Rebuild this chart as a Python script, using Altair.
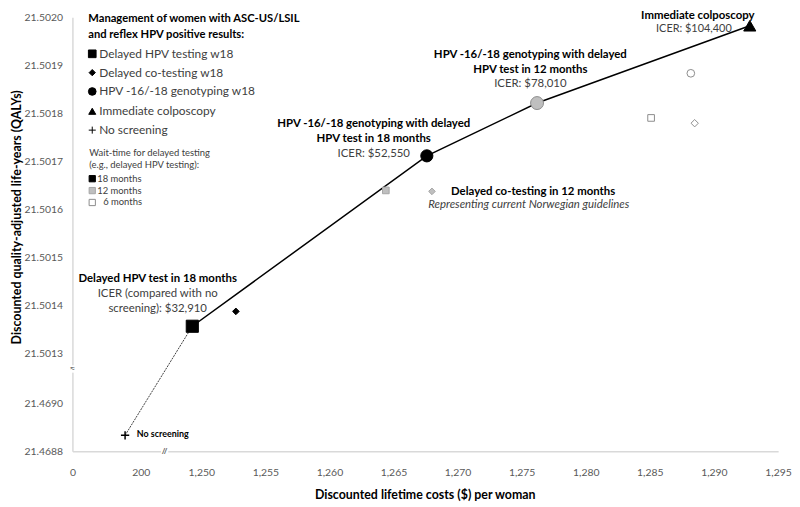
import altair as alt
import pandas as pd

FONT = "Lato, 'DejaVu Sans', sans-serif"

# ---------------- data ----------------
strategies = [
    "No screening",
    "Delayed HPV testing 18m",
    "Delayed co-testing 18m",
    "Delayed HPV testing 12m",
    "HPV-16/18 genotyping 18m",
    "Delayed co-testing 12m",
    "HPV-16/18 genotyping 12m",
    "Immediate colposcopy",
    "HPV-16/18 genotyping 6m",
    "Delayed HPV testing 6m",
    "Delayed co-testing 6m",
]
costs = [154, 1249.3, 1252.7, 1264.4, 1267.6, 1268.0, 1276.2, 1292.8, 1288.2, 1285.1, 1288.5]
qalys = [21.468867, 21.501356, 21.501387, 21.501639, 21.501711, 21.501637,
         21.501821, 21.501982, 21.501883, 21.501790, 21.501779]

frontier = ["Delayed HPV testing 18m", "HPV-16/18 genotyping 18m",
            "HPV-16/18 genotyping 12m", "Immediate colposcopy"]
dotted = ["No screening", "Delayed HPV testing 18m"]

x_ticks = [0, 200, 1250, 1255, 1260, 1265, 1270, 1275, 1280, 1285, 1290, 1295]
y_ticks = [21.4688, 21.4690, 21.5013, 21.5014, 21.5015, 21.5016, 21.5017,
           21.5018, 21.5019, 21.5020]

# styles (kept apart from values)
shape_range = ["M-1,0H1M0,-1V1", "square", "diamond", "square", "circle", "diamond",
               "circle", "triangle-up", "circle", "square", "diamond"]
fill_range = ["black", "black", "black", "#bfbfbf", "black", "#bfbfbf",
              "#bfbfbf", "black", "white", "white", "white"]
stroke_range = ["black", "black", "black", "#a6a6a6", "black", "#a6a6a6",
                "#8c8c8c", "black", "#8c8c8c", "#8c8c8c", "#8c8c8c"]
size_range = [70, 150, 45, 45, 150, 45, 170, 150, 60, 45, 55]
sw_range = [1.5, 1, 1, 1, 1, 1, 1, 1, 1, 1, 1]

# ---------------- broken-axis mapping ----------------
PXU = 12.93
X_EXPR = f"datum.cost <= 600 ? datum.cost / 200 * 69 : 130 + (datum.cost - 1250) * {PXU}"
Y_EXPR = "datum.qaly < 21.49 ? (datum.qaly - 21.4688) / 0.0002 * 48 : 99 + (datum.qaly - 21.5013) * 484286"


def xmap(v):
    return round(v / 200 * 69 if v <= 600 else 130 + (v - 1250) * PXU, 1)


def ymap(v):
    return round((v - 21.4688) / 0.0002 * 48 if v < 21.49 else 99 + (v - 21.5013) * 484286, 1)


XLAB = ("datum.value < 100 ? format(datum.value / 69 * 200, ',.0f') : "
        f"format(1250 + (datum.value - 130) / {PXU}, ',.0f')")
YLAB = ("datum.value < 70 ? format(21.4688 + datum.value / 48 * 0.0002, '.4f') : "
        "format(21.5013 + (datum.value - 99) / 484286, '.4f')")

W, H = 712, 438
OX, OY = 73, 15  # screen position of plot origin

df = pd.DataFrame({"strategy": strategies, "cost": costs, "qaly": qalys,
                   "shape": shape_range, "fill": fill_range, "stroke": stroke_range,
                   "size": size_range, "sw": sw_range})

xenc = alt.X("xpos:Q", scale=alt.Scale(domain=[0, W], nice=False, zero=False),
             axis=alt.Axis(values=[xmap(v) for v in x_ticks], labelExpr=XLAB, title=None,
                           ticks=False, grid=False, domainColor="#d9d9d9", domainWidth=1.5,
                           labelFont=FONT, labelFontSize=10.5, labelColor="#595959",
                           labelPadding=16, labelFlush=False, labelOverlap=False))
yenc = alt.Y("ypos:Q", scale=alt.Scale(domain=[0, H], nice=False, zero=False),
             axis=alt.Axis(values=[ymap(v) for v in y_ticks], labelExpr=YLAB, title=None,
                           ticks=False, grid=False, domainColor="#d9d9d9", domainWidth=1.5,
                           labelFont=FONT, labelFontSize=10.5, labelColor="#595959",
                           labelPadding=10, labelFlush=False, labelOverlap=False))


def with_pos(ch):
    return ch.transform_calculate(xpos=X_EXPR, ypos=Y_EXPR)


fr = df[df.strategy.isin(frontier)].copy()
fr["o"] = [frontier.index(s) for s in fr.strategy]
dt = df[df.strategy.isin(dotted)].copy()
dt["o"] = [dotted.index(s) for s in dt.strategy]

line_front = with_pos(alt.Chart(fr)).mark_line(color="black", strokeWidth=1.5).encode(
    x=xenc, y=yenc, order="o:Q")
line_dot = with_pos(alt.Chart(dt)).mark_line(
    color="#404040", strokeWidth=1, strokeDash=[2, 1]).encode(x=xenc, y=yenc, order="o:Q")

pts = with_pos(alt.Chart(df)).mark_point(filled=True, opacity=1).encode(
    x=xenc, y=yenc,
    shape=alt.Shape("shape:N", scale=None),
    fill=alt.Fill("fill:N", scale=None),
    stroke=alt.Stroke("stroke:N", scale=None),
    size=alt.Size("size:Q", scale=None),
    strokeWidth=alt.StrokeWidth("sw:Q", scale=None),
)


def label(text, x, y, size=11.5, weight="normal", color="black", align="center",
          style="normal", angle=0):
    return alt.Chart(pd.DataFrame({"t": [text]})).mark_text(
        align=align, baseline="middle", fontSize=size, fontWeight=weight, color=color,
        font=FONT, fontStyle=style, angle=angle
    ).encode(x=alt.value(x - OX), y=alt.value(y - OY), text="t:N")


def marker(x, y, shape, fill, stroke, size):
    return alt.Chart(pd.DataFrame({"t": [0]})).mark_point(
        shape=shape, fill=fill, stroke=stroke, size=size, filled=True, opacity=1, strokeWidth=1
    ).encode(x=alt.value(x - OX), y=alt.value(y - OY))


DG = "#404040"
annotations = [
    label("Management of women with ASC-US/LSIL", 89, 17, 11.3, "bold", align="left"),
    label("and reflex HPV positive results:", 89, 33, 11.3, "bold", align="left"),
    marker(93, 52, "square", "black", "black", 60),
    marker(93, 71, "diamond", "black", "black", 40),
    marker(93, 90, "circle", "black", "black", 60),
    marker(93, 110, "triangle-up", "black", "black", 50),
    marker(93, 129, "M-1,0H1M0,-1V1", "black", "black", 50),
    label("Delayed HPV testing w18", 100, 52, 12, color=DG, align="left"),
    label("Delayed co-testing w18", 100, 71, 12, color=DG, align="left"),
    label("HPV -16/-18 genotyping w18", 100, 90, 12, color=DG, align="left"),
    label("Immediate colposcopy", 100, 110, 12, color=DG, align="left"),
    label("No screening", 100, 129, 12, color=DG, align="left"),
    label("Wait-time for delayed testing", 90, 152, 9.5, color=DG, align="left"),
    label("(e.g., delayed HPV testing):", 90, 164, 9.5, color=DG, align="left"),
    marker(93, 178, "square", "black", "black", 40),
    marker(93, 190, "square", "#bfbfbf", "#a6a6a6", 40),
    marker(93, 202, "square", "white", "#8c8c8c", 40),
    label("18 months", 98, 178, 9.5, color=DG, align="left"),
    label("12 months", 98, 190, 9.5, color=DG, align="left"),
    label("6 months", 104, 202, 9.5, color=DG, align="left"),
    label("Delayed HPV test in 18 months", 159, 279, 11.5, "bold"),
    label("ICER (compared with no", 159, 294, 11.5, color=DG),
    label("screening): $32,910", 159, 309, 11.5, color=DG),
    label("No screening", 138, 436, 9, "bold", align="left"),
    label("HPV -16/-18 genotyping with delayed", 377, 123, 11.5, "bold"),
    label("HPV test in 18 months", 377, 138, 11.5, "bold"),
    label("ICER: $52,550", 377, 153, 11.5, color=DG),
    label("HPV -16/-18 genotyping with delayed", 535, 53, 11.5, "bold"),
    label("HPV test in 12 months", 535, 68, 11.5, "bold"),
    label("ICER: $78,010", 535, 82, 11.5, color=DG),
    label("Immediate colposcopy", 704, 14, 11.5, "bold"),
    label("ICER: $104,400", 700, 27, 11, color=DG),
    label("Delayed co-testing in 12 months", 455, 191, 11.5, "bold", align="left"),
    label("Representing current Norwegian guidelines", 432, 205, 11.5, color=DG,
          align="left", style="italic"),
    # axis titles
    label("Discounted quality-adjusted life-years (QALYs)", 17, 217, 12.5, "bold", angle=270),
    label("Discounted lifetime costs ($) per woman", 429, 497, 12.5, "bold"),
    # axis breaks
    marker(166, 453, "square", "white", "white", 40),
    label("//", 166, 454, 8, "bold", color="#595959"),
    marker(73, 370, "square", "white", "white", 40),
    label("≈", 73, 370, 10, color="#595959"),
]

chart = alt.layer(line_dot, line_front, pts, *annotations).properties(
    width=W, height=H,
    autosize=alt.AutoSizeParams(type="none"),
    padding={"left": 65, "top": 7, "right": 14, "bottom": 52},
).configure_view(stroke=None)

chart.save("out.html", embed_options={"renderer": "svg", "actions": False})
